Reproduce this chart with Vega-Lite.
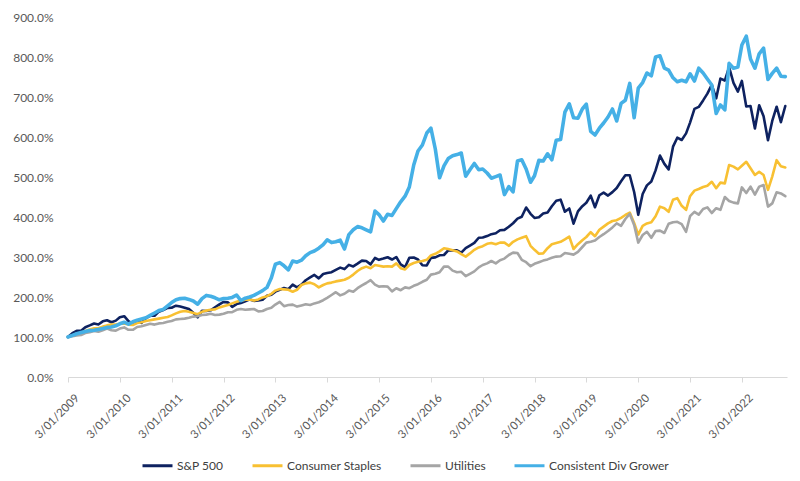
{
  "$schema": "https://vega.github.io/schema/vega-lite/v6.json",
  "width": 719,
  "height": 360,
  "autosize": {"type": "none"},
  "padding": {"left": 68, "top": 17, "right": 13, "bottom": 104},
  "background": "white",
  "config": {"view": {"stroke": null}, "font": "Lato"},
  "data": {
    "format": {"parse": {"d": "date:'%Y-%m'"}},
    "values": [
      {"d":"2009-03","sp":100.0,"cs":100,"ut":100,"cd":100},
      {"d":"2009-04","sp":109.6,"cs":104,"ut":102,"cd":104},
      {"d":"2009-05","sp":115.6,"cs":108,"ut":104,"cd":108},
      {"d":"2009-06","sp":115.8,"cs":110,"ut":105,"cd":111},
      {"d":"2009-07","sp":124.5,"cs":115,"ut":110,"cd":114},
      {"d":"2009-08","sp":129.0,"cs":119,"ut":112,"cd":116},
      {"d":"2009-09","sp":133.8,"cs":122,"ut":115,"cd":117},
      {"d":"2009-10","sp":131.4,"cs":122,"ut":113,"cd":119},
      {"d":"2009-11","sp":139.2,"cs":126,"ut":117,"cd":121},
      {"d":"2009-12","sp":141.9,"cs":129,"ut":121,"cd":124},
      {"d":"2010-01","sp":136.9,"cs":131,"ut":117,"cd":125},
      {"d":"2010-02","sp":140.9,"cs":131,"ut":116,"cd":128},
      {"d":"2010-03","sp":149.5,"cs":133,"ut":121,"cd":133},
      {"d":"2010-04","sp":152.0,"cs":134,"ut":124,"cd":137},
      {"d":"2010-05","sp":139.8,"cs":131,"ut":118,"cd":132},
      {"d":"2010-06","sp":132.5,"cs":130,"ut":118,"cd":138},
      {"d":"2010-07","sp":141.9,"cs":135,"ut":125,"cd":142},
      {"d":"2010-08","sp":135.3,"cs":137,"ut":127,"cd":145},
      {"d":"2010-09","sp":147.4,"cs":140,"ut":130,"cd":148},
      {"d":"2010-10","sp":153.1,"cs":142,"ut":133,"cd":154},
      {"d":"2010-11","sp":153.1,"cs":144,"ut":131,"cd":160},
      {"d":"2010-12","sp":163.3,"cs":146,"ut":134,"cd":166},
      {"d":"2011-01","sp":167.3,"cs":148,"ut":135,"cd":169},
      {"d":"2011-02","sp":172.9,"cs":150,"ut":138,"cd":178},
      {"d":"2011-03","sp":173.1,"cs":154,"ut":140,"cd":186},
      {"d":"2011-04","sp":178.3,"cs":159,"ut":144,"cd":193},
      {"d":"2011-05","sp":176.1,"cs":163,"ut":145,"cd":196},
      {"d":"2011-06","sp":173.3,"cs":165,"ut":146,"cd":197},
      {"d":"2011-07","sp":169.8,"cs":163,"ut":148,"cd":194},
      {"d":"2011-08","sp":160.5,"cs":160,"ut":151,"cd":190},
      {"d":"2011-09","sp":149.1,"cs":157,"ut":152,"cd":182},
      {"d":"2011-10","sp":165.5,"cs":163,"ut":155,"cd":196},
      {"d":"2011-11","sp":165.0,"cs":166,"ut":156,"cd":204},
      {"d":"2011-12","sp":166.7,"cs":168,"ut":158,"cd":202},
      {"d":"2012-01","sp":174.2,"cs":169,"ut":155,"cd":198},
      {"d":"2012-02","sp":181.7,"cs":174,"ut":156,"cd":193},
      {"d":"2012-03","sp":187.6,"cs":177,"ut":158,"cd":196},
      {"d":"2012-04","sp":186.6,"cs":180,"ut":162,"cd":197},
      {"d":"2012-05","sp":175.2,"cs":184,"ut":162,"cd":199},
      {"d":"2012-06","sp":182.4,"cs":188,"ut":168,"cd":205},
      {"d":"2012-07","sp":185.0,"cs":191,"ut":170,"cd":191},
      {"d":"2012-08","sp":189.0,"cs":193,"ut":168,"cd":197},
      {"d":"2012-09","sp":194.0,"cs":194,"ut":169,"cd":200},
      {"d":"2012-10","sp":190.4,"cs":191,"ut":170,"cd":204},
      {"d":"2012-11","sp":191.2,"cs":194,"ut":164,"cd":210},
      {"d":"2012-12","sp":192.9,"cs":199,"ut":165,"cd":216},
      {"d":"2013-01","sp":203.0,"cs":202,"ut":170,"cd":224},
      {"d":"2013-02","sp":205.7,"cs":208,"ut":173,"cd":248},
      {"d":"2013-03","sp":213.4,"cs":216,"ut":181,"cd":282},
      {"d":"2013-04","sp":217.8,"cs":220,"ut":188,"cd":286},
      {"d":"2013-05","sp":222.5,"cs":219,"ut":177,"cd":278},
      {"d":"2013-06","sp":219.5,"cs":218,"ut":180,"cd":268},
      {"d":"2013-07","sp":230.8,"cs":213,"ut":181,"cd":290},
      {"d":"2013-08","sp":223.9,"cs":218,"ut":176,"cd":287},
      {"d":"2013-09","sp":231.1,"cs":230,"ut":179,"cd":292},
      {"d":"2013-10","sp":241.8,"cs":234,"ut":182,"cd":303},
      {"d":"2013-11","sp":248.9,"cs":236,"ut":180,"cd":311},
      {"d":"2013-12","sp":255.2,"cs":232,"ut":184,"cd":315},
      {"d":"2014-01","sp":246.6,"cs":224,"ut":187,"cd":322},
      {"d":"2014-02","sp":257.6,"cs":230,"ut":192,"cd":331},
      {"d":"2014-03","sp":259.8,"cs":234,"ut":198,"cd":343},
      {"d":"2014-04","sp":261.9,"cs":236,"ut":205,"cd":336},
      {"d":"2014-05","sp":267.9,"cs":239,"ut":212,"cd":338},
      {"d":"2014-06","sp":273.4,"cs":241,"ut":204,"cd":342},
      {"d":"2014-07","sp":269.8,"cs":243,"ut":208,"cd":320},
      {"d":"2014-08","sp":280.3,"cs":248,"ut":216,"cd":356},
      {"d":"2014-09","sp":276.5,"cs":256,"ut":213,"cd":368},
      {"d":"2014-10","sp":283.4,"cs":265,"ut":222,"cd":376},
      {"d":"2014-11","sp":290.9,"cs":272,"ut":229,"cd":373},
      {"d":"2014-12","sp":290.1,"cs":276,"ut":235,"cd":368},
      {"d":"2015-01","sp":281.6,"cs":272,"ut":242,"cd":363},
      {"d":"2015-02","sp":297.6,"cs":280,"ut":231,"cd":415},
      {"d":"2015-03","sp":292.9,"cs":278,"ut":226,"cd":406},
      {"d":"2015-04","sp":296.0,"cs":276,"ut":227,"cd":390},
      {"d":"2015-05","sp":299.4,"cs":277,"ut":226,"cd":407},
      {"d":"2015-06","sp":293.7,"cs":276,"ut":214,"cd":404},
      {"d":"2015-07","sp":300.0,"cs":284,"ut":222,"cd":421},
      {"d":"2015-08","sp":281.7,"cs":272,"ut":217,"cd":438},
      {"d":"2015-09","sp":274.7,"cs":269,"ut":224,"cd":452},
      {"d":"2015-10","sp":298.0,"cs":280,"ut":222,"cd":475},
      {"d":"2015-11","sp":298.7,"cs":285,"ut":228,"cd":530},
      {"d":"2015-12","sp":293.9,"cs":288,"ut":232,"cd":565},
      {"d":"2016-01","sp":279.5,"cs":290,"ut":238,"cd":580},
      {"d":"2016-02","sp":278.8,"cs":293,"ut":243,"cd":610},
      {"d":"2016-03","sp":297.8,"cs":304,"ut":256,"cd":622},
      {"d":"2016-04","sp":299.0,"cs":308,"ut":258,"cd":570},
      {"d":"2016-05","sp":304.2,"cs":314,"ut":262,"cd":498},
      {"d":"2016-06","sp":305.0,"cs":322,"ut":276,"cd":528},
      {"d":"2016-07","sp":316.4,"cs":320,"ut":276,"cd":546},
      {"d":"2016-08","sp":316.5,"cs":317,"ut":266,"cd":553},
      {"d":"2016-09","sp":316.6,"cs":314,"ut":262,"cd":556},
      {"d":"2016-10","sp":311.0,"cs":307,"ut":263,"cd":560},
      {"d":"2016-11","sp":322.2,"cs":301,"ut":252,"cd":502},
      {"d":"2016-12","sp":328.6,"cs":309,"ut":258,"cd":518},
      {"d":"2017-01","sp":335.1,"cs":318,"ut":264,"cd":534},
      {"d":"2017-02","sp":348.2,"cs":324,"ut":274,"cd":518},
      {"d":"2017-03","sp":348.6,"cs":327,"ut":280,"cd":520},
      {"d":"2017-04","sp":352.3,"cs":333,"ut":284,"cd":510},
      {"d":"2017-05","sp":357.1,"cs":335,"ut":290,"cd":497},
      {"d":"2017-06","sp":359.3,"cs":332,"ut":284,"cd":501},
      {"d":"2017-07","sp":366.9,"cs":336,"ut":292,"cd":505},
      {"d":"2017-08","sp":367.8,"cs":336,"ut":296,"cd":456},
      {"d":"2017-09","sp":375.5,"cs":328,"ut":305,"cd":476},
      {"d":"2017-10","sp":384.4,"cs":338,"ut":311,"cd":463},
      {"d":"2017-11","sp":396.0,"cs":344,"ut":310,"cd":540},
      {"d":"2017-12","sp":400.6,"cs":348,"ut":293,"cd":543},
      {"d":"2018-01","sp":423.8,"cs":352,"ut":287,"cd":520},
      {"d":"2018-02","sp":408.0,"cs":328,"ut":277,"cd":487},
      {"d":"2018-03","sp":397.7,"cs":318,"ut":283,"cd":503},
      {"d":"2018-04","sp":399.4,"cs":308,"ut":287,"cd":542},
      {"d":"2018-05","sp":408.7,"cs":309,"ut":291,"cd":540},
      {"d":"2018-06","sp":411.4,"cs":322,"ut":294,"cd":558},
      {"d":"2018-07","sp":426.9,"cs":332,"ut":298,"cd":543},
      {"d":"2018-08","sp":440.7,"cs":335,"ut":301,"cd":592},
      {"d":"2018-09","sp":443.3,"cs":338,"ut":302,"cd":594},
      {"d":"2018-10","sp":413.2,"cs":344,"ut":310,"cd":662},
      {"d":"2018-11","sp":421.3,"cs":351,"ut":308,"cd":683},
      {"d":"2018-12","sp":383.3,"cs":320,"ut":306,"cd":648},
      {"d":"2019-01","sp":414.1,"cs":332,"ut":313,"cd":647},
      {"d":"2019-02","sp":427.1,"cs":342,"ut":325,"cd":670},
      {"d":"2019-03","sp":435.5,"cs":350,"ut":336,"cd":682},
      {"d":"2019-04","sp":453.5,"cs":362,"ut":338,"cd":614},
      {"d":"2019-05","sp":424.4,"cs":352,"ut":341,"cd":605},
      {"d":"2019-06","sp":454.4,"cs":368,"ut":350,"cd":622},
      {"d":"2019-07","sp":461.1,"cs":376,"ut":357,"cd":635},
      {"d":"2019-08","sp":453.5,"cs":384,"ut":365,"cd":650},
      {"d":"2019-09","sp":462.2,"cs":390,"ut":374,"cd":670},
      {"d":"2019-10","sp":472.4,"cs":392,"ut":384,"cd":640},
      {"d":"2019-11","sp":489.3,"cs":398,"ut":378,"cd":684},
      {"d":"2019-12","sp":504.2,"cs":405,"ut":395,"cd":692},
      {"d":"2020-01","sp":504.3,"cs":411,"ut":408,"cd":734},
      {"d":"2020-02","sp":462.5,"cs":385,"ut":380,"cd":648},
      {"d":"2020-03","sp":405.4,"cs":356,"ut":336,"cd":722},
      {"d":"2020-04","sp":457.5,"cs":378,"ut":355,"cd":736},
      {"d":"2020-05","sp":479.1,"cs":384,"ut":363,"cd":760},
      {"d":"2020-06","sp":488.7,"cs":387,"ut":348,"cd":753},
      {"d":"2020-07","sp":516.5,"cs":402,"ut":365,"cd":800},
      {"d":"2020-08","sp":553.6,"cs":426,"ut":366,"cd":803},
      {"d":"2020-09","sp":532.8,"cs":422,"ut":360,"cd":772},
      {"d":"2020-10","sp":519.0,"cs":413,"ut":383,"cd":767},
      {"d":"2020-11","sp":575.9,"cs":443,"ut":387,"cd":748},
      {"d":"2020-12","sp":598.2,"cs":447,"ut":388,"cd":738},
      {"d":"2021-01","sp":592.5,"cs":428,"ut":382,"cd":742},
      {"d":"2021-02","sp":609.0,"cs":418,"ut":363,"cd":738},
      {"d":"2021-03","sp":636.0,"cs":452,"ut":402,"cd":758},
      {"d":"2021-04","sp":670.3,"cs":466,"ut":413,"cd":740},
      {"d":"2021-05","sp":675.2,"cs":470,"ut":406,"cd":772},
      {"d":"2021-06","sp":691.5,"cs":475,"ut":420,"cd":760},
      {"d":"2021-07","sp":708.4,"cs":478,"ut":424,"cd":745},
      {"d":"2021-08","sp":730.2,"cs":488,"ut":410,"cd":730},
      {"d":"2021-09","sp":696.6,"cs":472,"ut":422,"cd":659},
      {"d":"2021-10","sp":746.0,"cs":486,"ut":418,"cd":680},
      {"d":"2021-11","sp":741.1,"cs":484,"ut":450,"cd":668},
      {"d":"2021-12","sp":774.6,"cs":530,"ut":440,"cd":784},
      {"d":"2022-01","sp":735.3,"cs":526,"ut":436,"cd":772},
      {"d":"2022-02","sp":713.4,"cs":519,"ut":434,"cd":775},
      {"d":"2022-03","sp":740.2,"cs":528,"ut":474,"cd":830},
      {"d":"2022-04","sp":676.2,"cs":538,"ut":460,"cd":852},
      {"d":"2022-05","sp":677.4,"cs":522,"ut":476,"cd":795},
      {"d":"2022-06","sp":621.5,"cs":505,"ut":456,"cd":772},
      {"d":"2022-07","sp":679.3,"cs":513,"ut":476,"cd":808},
      {"d":"2022-08","sp":651.7,"cs":505,"ut":480,"cd":822},
      {"d":"2022-09","sp":591.9,"cs":468,"ut":426,"cd":744},
      {"d":"2022-10","sp":640.2,"cs":501,"ut":434,"cd":759},
      {"d":"2022-11","sp":675.7,"cs":542,"ut":462,"cd":772},
      {"d":"2022-12","sp":637.1,"cs":527,"ut":459,"cd":752},
      {"d":"2023-01","sp":677.5,"cs":524,"ut":452,"cd":751}
    ]
  },
  "transform": [{"fold": ["sp", "cs", "ut", "cd"], "as": ["s", "v"]}],
  "mark": {"type": "line", "strokeJoin": "round", "strokeCap": "round"},
  "encoding": {
    "x": {
      "field": "d", "type": "temporal",
      "scale": {"domain": [{"year": 2009, "month": 3, "date": 1}, {"year": 2023, "month": 1, "date": 13}], "nice": false},
      "axis": {
        "title": null, "grid": false,
        "values": [
          {"year":2009,"month":3,"date":1},{"year":2010,"month":3,"date":1},{"year":2011,"month":3,"date":1},
          {"year":2012,"month":3,"date":1},{"year":2013,"month":3,"date":1},{"year":2014,"month":3,"date":1},
          {"year":2015,"month":3,"date":1},{"year":2016,"month":3,"date":1},{"year":2017,"month":3,"date":1},
          {"year":2018,"month":3,"date":1},{"year":2019,"month":3,"date":1},{"year":2020,"month":3,"date":1},
          {"year":2021,"month":3,"date":1},{"year":2022,"month":3,"date":1}
        ],
        "format": "%-m/%d/%Y",
        "labelAngle": -45, "labelAlign": "right", "labelBaseline": "top",
        "labelOverlap": false, "labelFontSize": 11.5, "labelColor": "#595959",
        "labelPadding": 10, "labelOffset": 5,
        "domainColor": "#D9D9D9", "tickColor": "#D9D9D9", "tickSize": 5
      }
    },
    "y": {
      "field": "v", "type": "quantitative",
      "scale": {"domain": [0, 900], "nice": false},
      "axis": {
        "title": null, "grid": false, "domain": false, "ticks": false,
        "values": [0, 100, 200, 300, 400, 500, 600, 700, 800, 900],
        "labelExpr": "format(datum.value / 100, '.1%')",
        "labelFontSize": 12, "labelColor": "#595959", "labelPadding": 15
      }
    },
    "color": {
      "field": "s", "type": "nominal",
      "scale": {"domain": ["sp", "cs", "ut", "cd"], "range": ["#0E2260", "#F8C032", "#A5A5A5", "#45B0E6"]},
      "legend": {
        "orient": "none", "legendX": 73, "legendY": 432, "direction": "horizontal",
        "title": null, "symbolType": "stroke", "symbolStrokeWidth": 3, "symbolSize": 900,
        "labelFontSize": 12, "labelColor": "#404040", "columnPadding": 22, "labelOffset": 3,
        "labelExpr": "{'sp': 'S&P 500', 'cs': 'Consumer Staples', 'ut': 'Utilities', 'cd': 'Consistent Div Grower'}[datum.label]"
      }
    },
    "strokeWidth": {"condition": {"test": "datum.s === 'cd'", "value": 3.6}, "value": 2.6}
  }
}
